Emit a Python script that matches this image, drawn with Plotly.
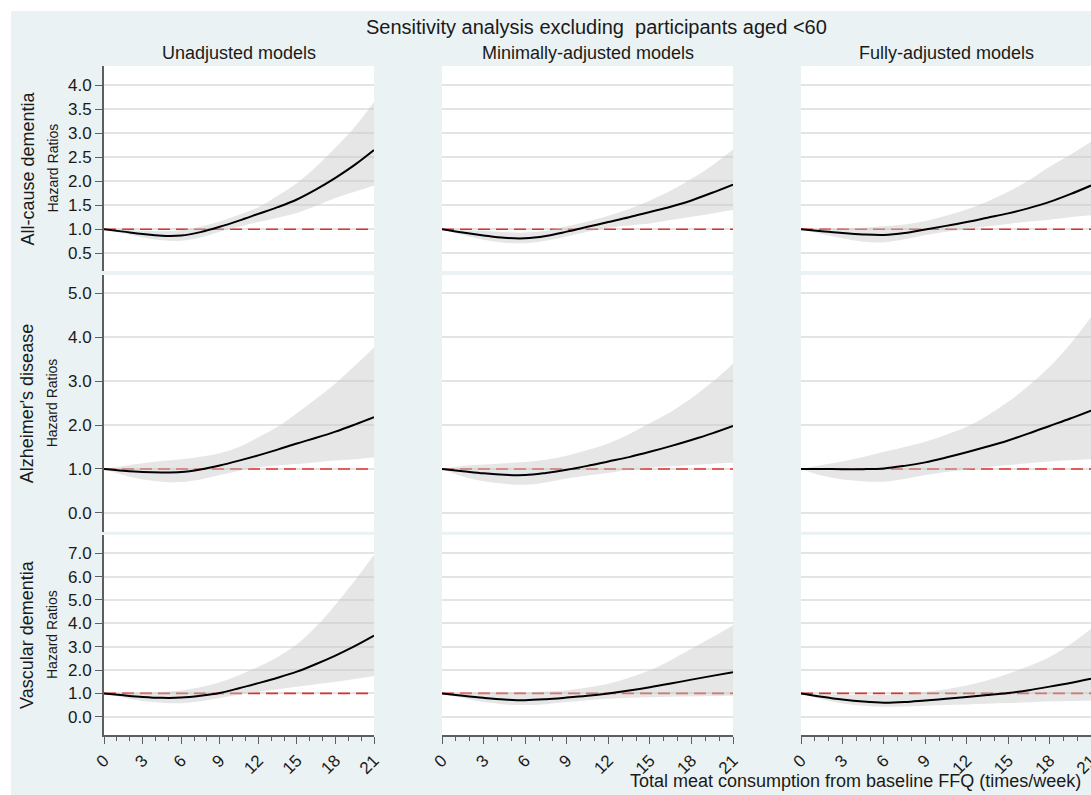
import plotly.graph_objects as go

# ---------------- data ----------------
x_vals = [0, 1.5, 3, 4.5, 6, 7.5, 9, 10.5, 12, 13.5, 15, 16.5, 18, 19.5, 21]

main_title = "Sensitivity analysis excluding \u00a0participants aged <60"
x_title = "Total meat consumption from baseline FFQ (times/week)"
row_labels = ["All-cause dementia", "Alzheimer's disease", "Vascular dementia"]
col_labels = ["Unadjusted models", "Minimally-adjusted models", "Fully-adjusted models"]
y_axis_label = "Hazard Ratios"
x_ticks = [0, 3, 6, 9, 12, 15, 18, 21]
y_ticks_allcause = [0.5, 1.0, 1.5, 2.0, 2.5, 3.0, 3.5, 4.0]
y_ticks_alz = [0, 1, 2, 3, 4, 5]
y_ticks_vasc = [0, 1, 2, 3, 4, 5, 6, 7]
ref_value = 1.0

# All-cause dementia
acd_unadj_hr = [1.00, 0.95, 0.90, 0.865, 0.87, 0.94, 1.05, 1.18, 1.32, 1.46, 1.62, 1.83, 2.07, 2.34, 2.65]
acd_unadj_lo = [1.00, 0.91, 0.83, 0.77, 0.76, 0.83, 0.95, 1.05, 1.15, 1.24, 1.34, 1.49, 1.65, 1.78, 1.91]
acd_unadj_hi = [1.00, 0.99, 0.97, 0.96, 0.98, 1.05, 1.16, 1.30, 1.46, 1.70, 1.96, 2.30, 2.70, 3.13, 3.65]

acd_min_hr = [1.00, 0.93, 0.87, 0.82, 0.81, 0.86, 0.95, 1.05, 1.15, 1.25, 1.36, 1.47, 1.60, 1.76, 1.93]
acd_min_lo = [1.00, 0.88, 0.78, 0.72, 0.71, 0.76, 0.85, 0.95, 1.03, 1.08, 1.12, 1.19, 1.26, 1.33, 1.40]
acd_min_hi = [1.00, 0.98, 0.97, 0.94, 0.93, 0.97, 1.06, 1.16, 1.28, 1.42, 1.60, 1.80, 2.05, 2.33, 2.66]

acd_full_hr = [1.00, 0.96, 0.92, 0.89, 0.88, 0.92, 0.995, 1.07, 1.15, 1.24, 1.33, 1.44, 1.57, 1.73, 1.91]
acd_full_lo = [1.00, 0.90, 0.81, 0.74, 0.73, 0.79, 0.88, 0.95, 1.00, 1.06, 1.11, 1.16, 1.20, 1.25, 1.29]
acd_full_hi = [1.00, 1.00, 1.01, 1.03, 1.06, 1.10, 1.17, 1.28, 1.41, 1.58, 1.78, 2.02, 2.30, 2.55, 2.82]

# Alzheimer's disease
alz_unadj_hr = [1.00, 0.96, 0.93, 0.92, 0.93, 0.99, 1.08, 1.19, 1.31, 1.44, 1.58, 1.71, 1.85, 2.01, 2.18]
alz_unadj_lo = [1.00, 0.86, 0.76, 0.71, 0.70, 0.76, 0.86, 0.96, 1.04, 1.08, 1.11, 1.15, 1.19, 1.22, 1.26]
alz_unadj_hi = [1.00, 1.07, 1.13, 1.18, 1.22, 1.28, 1.36, 1.50, 1.72, 1.96, 2.27, 2.60, 2.95, 3.35, 3.77]

alz_min_hr = [1.00, 0.95, 0.90, 0.865, 0.86, 0.91, 0.98, 1.07, 1.17, 1.27, 1.39, 1.52, 1.66, 1.81, 1.98]
alz_min_lo = [1.00, 0.83, 0.72, 0.66, 0.64, 0.69, 0.78, 0.85, 0.91, 0.98, 1.03, 1.06, 1.09, 1.12, 1.14]
alz_min_hi = [1.00, 1.07, 1.10, 1.13, 1.16, 1.21, 1.30, 1.43, 1.58, 1.79, 2.04, 2.30, 2.61, 2.98, 3.40]

alz_full_hr = [1.00, 1.00, 0.995, 0.995, 1.01, 1.07, 1.15, 1.26, 1.38, 1.51, 1.65, 1.81, 1.98, 2.15, 2.33]
alz_full_lo = [1.00, 0.85, 0.76, 0.72, 0.71, 0.77, 0.86, 0.93, 0.98, 1.04, 1.09, 1.13, 1.17, 1.20, 1.22]
alz_full_hi = [1.00, 1.09, 1.17, 1.27, 1.39, 1.50, 1.62, 1.78, 1.96, 2.22, 2.53, 2.90, 3.33, 3.85, 4.46]

# Vascular dementia
vas_unadj_hr = [1.00, 0.92, 0.85, 0.81, 0.82, 0.90, 1.02, 1.22, 1.44, 1.67, 1.93, 2.26, 2.62, 3.02, 3.47]
vas_unadj_lo = [1.00, 0.83, 0.68, 0.60, 0.58, 0.66, 0.80, 0.94, 1.07, 1.18, 1.29, 1.39, 1.50, 1.62, 1.75]
vas_unadj_hi = [1.00, 1.01, 1.03, 1.06, 1.12, 1.26, 1.48, 1.78, 2.14, 2.56, 3.10, 3.86, 4.80, 5.82, 6.93]

vas_min_hr = [1.00, 0.90, 0.81, 0.74, 0.71, 0.75, 0.82, 0.90, 1.00, 1.12, 1.26, 1.42, 1.59, 1.75, 1.91]
vas_min_lo = [1.00, 0.80, 0.63, 0.53, 0.50, 0.54, 0.63, 0.71, 0.77, 0.81, 0.84, 0.86, 0.87, 0.89, 0.90]
vas_min_hi = [1.00, 1.02, 1.03, 1.04, 1.05, 1.08, 1.13, 1.25, 1.41, 1.67, 1.99, 2.42, 2.91, 3.40, 3.92]

vas_full_hr = [1.00, 0.86, 0.74, 0.65, 0.60, 0.63, 0.70, 0.77, 0.85, 0.93, 1.02, 1.14, 1.29, 1.45, 1.63]
vas_full_lo = [1.00, 0.75, 0.57, 0.47, 0.43, 0.44, 0.47, 0.50, 0.53, 0.56, 0.59, 0.62, 0.66, 0.68, 0.70]
vas_full_hi = [1.00, 0.98, 0.96, 0.93, 0.93, 0.97, 1.06, 1.18, 1.34, 1.56, 1.84, 2.17, 2.56, 3.10, 3.77]

panels = [
    [(acd_unadj_hr, acd_unadj_lo, acd_unadj_hi), (acd_min_hr, acd_min_lo, acd_min_hi), (acd_full_hr, acd_full_lo, acd_full_hi)],
    [(alz_unadj_hr, alz_unadj_lo, alz_unadj_hi), (alz_min_hr, alz_min_lo, alz_min_hi), (alz_full_hr, alz_full_lo, alz_full_hi)],
    [(vas_unadj_hr, vas_unadj_lo, vas_unadj_hi), (vas_min_hr, vas_min_lo, vas_min_hi), (vas_full_hr, vas_full_lo, vas_full_hi)],
]
row_ticks = [y_ticks_allcause, y_ticks_alz, y_ticks_vasc]

# ---------------- layout geometry / style ----------------
W, H = 1091, 795
col_px = [(104, 374), (442, 733), (801, 1091)]
row_px = [(66, 271), (275, 531.7), (535, 735)]
row_ranges = [[0.13, 4.40], [-0.43, 5.42], [-0.78, 7.78]]

FONT = "Liberation Sans, Arial, sans-serif"
BG = "#EAF2F3"
GRID = "#E2E5E6"
AXIS = "#5E5E5E"
TXT = "#1A1A1A"
BAND = "rgba(200,200,200,0.45)"
REDLINE = "#E0302B"

fig = go.Figure()
layout_axes = {}

for r in range(3):
    for c in range(3):
        p = r * 3 + c
        suf = "" if p == 0 else str(p + 1)
        xref, yref = "x" + suf, "y" + suf
        hr, lo, hi = panels[r][c]

        fig.add_trace(go.Scatter(x=[x_vals[0], x_vals[-1]], y=[ref_value, ref_value], mode="lines",
                                 line=dict(color=REDLINE, width=1.6, dash="12px,6px"),
                                 xaxis=xref, yaxis=yref, showlegend=False, hoverinfo="skip"))
        fig.add_trace(go.Scatter(x=x_vals, y=lo, mode="lines", line=dict(width=0, shape="spline"),
                                 xaxis=xref, yaxis=yref, showlegend=False, hoverinfo="skip"))
        fig.add_trace(go.Scatter(x=x_vals, y=hi, mode="lines", line=dict(width=0, shape="spline"),
                                 fill="tonexty", fillcolor=BAND,
                                 xaxis=xref, yaxis=yref, showlegend=False, hoverinfo="skip"))
        fig.add_trace(go.Scatter(x=x_vals, y=hr, mode="lines", line=dict(color="black", width=2, shape="spline"),
                                 xaxis=xref, yaxis=yref, showlegend=False))

        x0, x1 = col_px[c]
        y0, y1 = row_px[r]
        xa = dict(domain=[x0 / W, min(1.0, x1 / W)], range=[0, 21], anchor=yref,
                  showgrid=False, zeroline=False, fixedrange=True, automargin=False)
        if r == 2:
            xa.update(showline=True, linecolor=AXIS, linewidth=1.6, ticks="outside", ticklen=7,
                      tickwidth=1.3, tickcolor=AXIS, tickmode="array", tickvals=x_ticks,
                      ticktext=[str(t) for t in x_ticks], tickangle=-45,
                      ticklabeloverflow="allow",
                      tickfont=dict(family=FONT, size=17, color=TXT),
                      minor=dict(ticks="outside", ticklen=4, tickwidth=1.1, tickcolor=AXIS,
                                 dtick=1, tick0=0, showgrid=False))
        else:
            xa.update(showticklabels=False, showline=False, ticks="")
        ya = dict(domain=[1 - y1 / H, 1 - y0 / H], range=row_ranges[r], anchor=xref,
                  showgrid=True, gridcolor=GRID, gridwidth=1.5, zeroline=False, fixedrange=True,
                  automargin=False, tickmode="array", tickvals=row_ticks[r], tickformat=".1f")
        if c == 0:
            ya.update(showline=True, linecolor=AXIS, linewidth=2, ticks="outside", ticklen=7,
                      tickwidth=1.3, tickcolor=AXIS, showticklabels=True,
                      tickfont=dict(family=FONT, size=17, color=TXT))
        else:
            ya.update(showticklabels=False, showline=False, ticks="")
        layout_axes["xaxis" + suf] = xa
        layout_axes["yaxis" + suf] = ya

annotations = []
annotations.append(dict(text=main_title, x=596 / W, y=1 - 27 / H, xref="paper", yref="paper",
                        xanchor="center", yanchor="middle", showarrow=False,
                        font=dict(family=FONT, size=20, color=TXT)))
for c in range(3):
    x0, x1 = col_px[c]
    annotations.append(dict(text=col_labels[c], x=(x0 + x1) / 2 / W, y=1 - 53 / H,
                            xref="paper", yref="paper", xanchor="center", yanchor="middle",
                            showarrow=False, font=dict(family=FONT, size=18, color=TXT)))
for r in range(3):
    y0, y1 = row_px[r]
    yc = 1 - (y0 + y1) / 2 / H
    annotations.append(dict(text=row_labels[r], x=27 / W, y=yc, xref="paper", yref="paper",
                            xanchor="center", yanchor="middle", textangle=-90, showarrow=False,
                            font=dict(family=FONT, size=18, color=TXT)))
    annotations.append(dict(text=y_axis_label, x=52 / W, y=yc, xref="paper", yref="paper",
                            xanchor="center", yanchor="middle", textangle=-90, showarrow=False,
                            font=dict(family=FONT, size=14, color=TXT)))
annotations.append(dict(text=x_title, x=1083 / W, y=1 - 781 / H, xref="paper", yref="paper",
                        xanchor="right", yanchor="middle", showarrow=False,
                        font=dict(family=FONT, size=18, color=TXT)))

shapes = [
    dict(type="rect", xref="paper", yref="paper", x0=0, x1=1, y0=1 - 11 / H, y1=1,
         fillcolor="white", line=dict(width=0), layer="below"),
    dict(type="rect", xref="paper", yref="paper", x0=0, x1=11 / W, y0=0, y1=1,
         fillcolor="white", line=dict(width=0), layer="below"),
]

fig.update_layout(width=W, height=H, autosize=False, margin=dict(l=0, r=0, t=0, b=0, autoexpand=False),
                  paper_bgcolor=BG, plot_bgcolor="white", showlegend=False,
                  font=dict(family=FONT, color=TXT),
                  annotations=annotations, shapes=shapes, **layout_axes)

fig.write_html("out.html", config={"displayModeBar": False, "responsive": False},
               post_script="document.body.style.margin='0';document.body.style.padding='0';"
                           "document.body.style.overflow='hidden';")
